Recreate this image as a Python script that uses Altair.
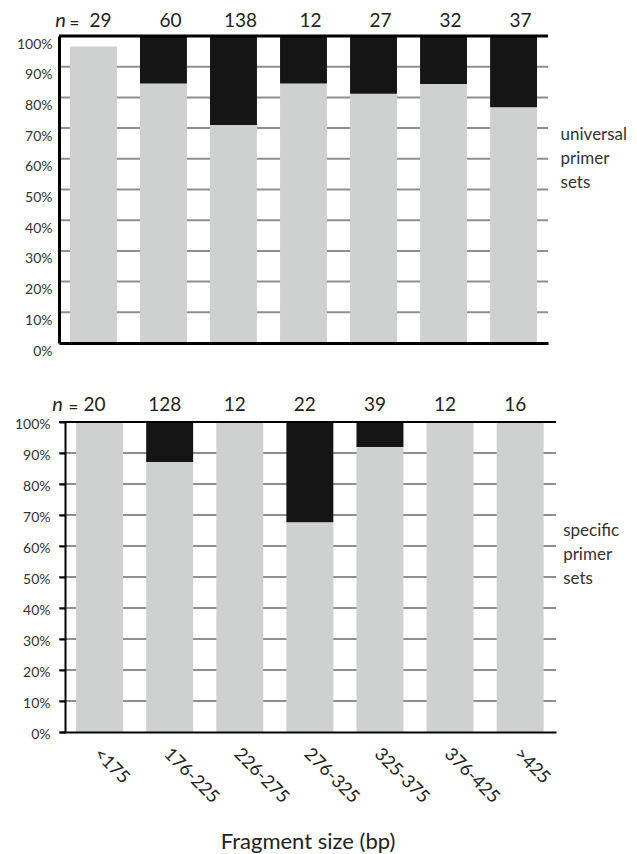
import altair as alt
import pandas as pd

# ---- data ----
cats = ["<175", "176-225", "226-275", "276-325", "325-375", "376-425", ">425"]

uni_gray = [0.966, 0.845, 0.710, 0.845, 0.812, 0.844, 0.768]
uni_black = [0.0, 0.155, 0.290, 0.155, 0.188, 0.156, 0.232]
uni_n = [29, 60, 138, 12, 27, 32, 37]

spe_gray = [1.0, 0.871, 1.0, 0.677, 0.919, 1.0, 1.0]
spe_black = [0.0, 0.129, 0.0, 0.323, 0.081, 0.0, 0.0]
spe_n = [20, 128, 12, 22, 39, 12, 16]

y_ticks = [0, 10, 20, 30, 40, 50, 60, 70, 80, 90, 100]
grid_vals = [10, 20, 30, 40, 50, 60, 70, 80, 90]

side_top = ["universal", "primer", "sets"]
side_bottom = ["specific", "primer", "sets"]
x_title = "Fragment size (bp)"

FONT = "Lato"
GRAY = "#cfd1d0"
BLACK = "#151515"
GRID = "#8f8f8f"
TXT = "#333333"


def panel(gray, black, ns, side, width, height, bottom, ndx, n_dx, eq_dx, ndy, side_dx, side_y):
    df = pd.DataFrame({"cat": cats, "gray": gray, "black": black, "n": ns})
    df["gray"] = df["gray"] * 100
    df["top"] = df["gray"] + df["black"] * 100
    grid = pd.DataFrame({"v": grid_vals})

    common = dict(values=y_ticks, tickCount=11, labelExpr="datum.value + '%'", grid=False,
                  zindex=1, title=None, labelFont=FONT, labelFontSize=14, labelColor=TXT,
                  minExtent=51, maxExtent=51, labelOverlap=False, domainColor="black")
    if bottom:
        xscale = alt.Scale(domain=cats, paddingInner=0.33, paddingOuter=0.21, align=0.58)
        xaxis = alt.Axis(title=x_title, labelAngle=45, labelAlign="left", labelBaseline="middle",
                         labelOffset=-3, labelPadding=19, ticks=False, domainColor="black",
                         domainWidth=2, zindex=1, labelFont=FONT, labelFontSize=18,
                         labelColor="#222222", titleFont=FONT, titleFontSize=22,
                         titleFontWeight="normal", titleColor="#222222", titlePadding=25,
                         labelOverlap=False, grid=False)
        yaxis = alt.Axis(ticks=True, tickSize=6, tickWidth=2, tickColor="black",
                         domainWidth=2, offset=-6, labelPadding=9, labelOffset=2, **common)
        topw = 2
    else:
        xscale = alt.Scale(domain=cats, paddingInner=0.33, paddingOuter=0.157)
        xaxis = alt.Axis(labels=False, ticks=False, title=None, domainColor="black",
                         domainWidth=3, zindex=1, grid=False)
        yaxis = alt.Axis(ticks=False, domainWidth=3, labelPadding=7, labelOffset=8, **common)
        topw = 3
    yscale = alt.Scale(domain=[0, 100], nice=False)

    base = alt.Chart(df)
    gridl = alt.Chart(grid).mark_rule(color=GRID, strokeWidth=2).encode(
        y=alt.Y("v:Q", scale=yscale, axis=yaxis))
    bars_g = base.mark_bar(color=GRAY).encode(
        x=alt.X("cat:N", scale=xscale, sort=cats, axis=xaxis),
        y=alt.Y("gray:Q", scale=yscale),
    )
    bars_b = base.transform_filter("datum.black > 0").mark_bar(color=BLACK).encode(
        x=alt.X("cat:N", scale=xscale, sort=cats),
        y=alt.Y("gray:Q", scale=yscale),
        y2="top:Q",
    )
    top_rule = alt.Chart(df).transform_filter(alt.datum.cat == cats[0]).mark_rule(
        color="black", strokeWidth=topw).encode(y=alt.datum(100))
    ntext = base.mark_text(font=FONT, fontSize=19, color="#222222", baseline="alphabetic",
                           dx=ndx, dy=ndy).encode(
        x=alt.X("cat:N", scale=xscale, sort=cats), y=alt.datum(100), text="n:Q")
    first = pd.DataFrame({"cat": [cats[0]], "lab": ["n"], "eq": ["="]})
    n_lab = alt.Chart(first).mark_text(font=FONT, fontSize=20, fontStyle="italic",
                                       color="#222222", baseline="alphabetic",
                                       dx=n_dx, dy=ndy).encode(
        x=alt.X("cat:N", scale=xscale, sort=cats), y=alt.datum(100), text="lab:N")
    eq_lab = alt.Chart(first).mark_text(font=FONT, fontSize=17, color="#222222",
                                        baseline="alphabetic", dx=eq_dx, dy=ndy + 2).encode(
        x=alt.X("cat:N", scale=xscale, sort=cats), y=alt.datum(100), text="eq:N")
    side_df = pd.DataFrame({"cat": [cats[-1]], "t": ["\n".join(side)]})
    side_lab = alt.Chart(side_df).mark_text(font=FONT, fontSize=17, color="#333333",
                                            align="left", baseline="middle", lineBreak="\n",
                                            lineHeight=24, dx=side_dx).encode(
        x=alt.X("cat:N", scale=xscale, sort=cats), y=alt.datum(side_y), text="t:N")

    return alt.layer(gridl, bars_g, bars_b, top_rule, ntext, n_lab, eq_lab, side_lab).properties(
        width=width, height=height)


top = panel(uni_gray, uni_black, uni_n, side_top, 489, 307, False, 7, -33, -19, -9, 47, 67.7)
bot = panel(spe_gray, spe_black, spe_n, side_bottom, 497, 310, True, -5, -42, -26, -11, 43, 64.8)

chart = alt.concat(top, bot, columns=1, spacing=37).properties(
    padding={"left": 0, "top": 3, "right": 0, "bottom": 0}
).configure_view(stroke=None).configure_axis(labelOverlap=False)

chart.save("out.html", embed_options={"renderer": "svg", "actions": False})
